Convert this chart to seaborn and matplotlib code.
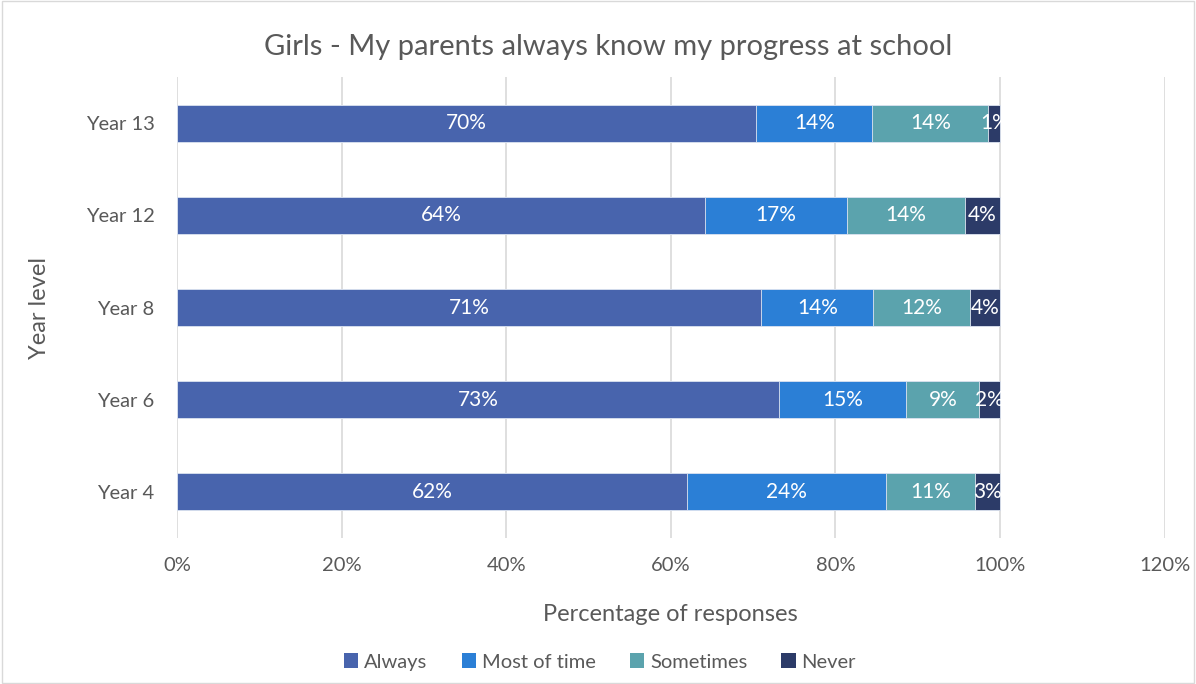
import numpy as np
import pandas as pd
import matplotlib
matplotlib.use('Agg')
import matplotlib.pyplot as plt
import seaborn as sns
from matplotlib.patches import Patch, Rectangle

# Data (percent of responses)
years = ['Year 13', 'Year 12', 'Year 8', 'Year 6', 'Year 4']
always = [70.4, 64.2, 71.0, 73.2, 62.0]
most_of_time = [14.1, 17.2, 13.6, 15.4, 24.1]
sometimes = [14.1, 14.3, 11.8, 8.9, 10.9]
never = [1.4, 4.3, 3.6, 2.5, 3.0]

series_names = ['Always', 'Most of time', 'Sometimes', 'Never']
colors = ['#4864ad', '#2b7fd6', '#5ba3ad', '#2c3b68']

sns.set_theme(style='white')
plt.rcParams['font.family'] = ['Lato', 'DejaVu Sans']
grey = '#595959'

df = pd.DataFrame({'year': years, 'Always': always, 'Most of time': most_of_time,
                   'Sometimes': sometimes, 'Never': never})
cum = df[series_names].cumsum(axis=1)

fig = plt.figure(figsize=(11.96, 6.84), dpi=100)
ax = fig.add_axes([177 / 1196, 1 - 538 / 684, (1164.6 - 177) / 1196, 461 / 684])

# draw stacked bars: largest cumulative first so the rest overlay it
for name, col in reversed(list(zip(series_names, colors))):
    sns.barplot(x=cum[name], y=df['year'], order=years, color=col, orient='h',
                width=0.4, ax=ax, saturation=1, edgecolor='#dfe6f2', linewidth=0.6)

# data labels centred on each segment
for name in series_names:
    starts = cum[name] - df[name]
    for i, (s, v) in enumerate(zip(starts, df[name])):
        ax.text(s + v / 2, i, f'{v:.0f}%', ha='center', va='center',
                color='white', fontsize=15)

ax.set_xlim(0, 120)
ax.set_xticks(np.arange(0, 121, 20))
ax.set_xticklabels([f'{t}%' for t in range(0, 121, 20)])
ax.xaxis.grid(True, color='#d9d9d9', linewidth=1.2)
ax.set_axisbelow(True)
for sp in ax.spines.values():
    sp.set_visible(False)
ax.tick_params(axis='both', colors=grey, labelsize=14.5, length=0)
ax.tick_params(axis='x', pad=14)
ax.tick_params(axis='y', pad=16)
ax.set_xlabel('Percentage of responses', color=grey, fontsize=17, labelpad=21)
ax.set_ylabel('Year level', color=grey, fontsize=17, labelpad=26)

fig.text(608 / 1196, 1 - 47 / 684, 'Girls - My parents always know my progress at school',
         ha='center', va='center', color=grey, fontsize=21)

handles = [Patch(facecolor=c, edgecolor='none') for c in colors]
fig.legend(handles, series_names, loc='center', bbox_to_anchor=(600 / 1196, 1 - 662 / 684),
           ncol=4, frameon=False, fontsize=14.5, labelcolor=grey, handlelength=0.7,
           handleheight=0.7, handletextpad=0.3, columnspacing=1.7)

fig.patches.append(Rectangle((0.002, 0.002), 0.996, 0.996, transform=fig.transFigure,
                             fill=False, edgecolor='#d9d9d9', linewidth=1))

fig.savefig('out.png', dpi=100)
